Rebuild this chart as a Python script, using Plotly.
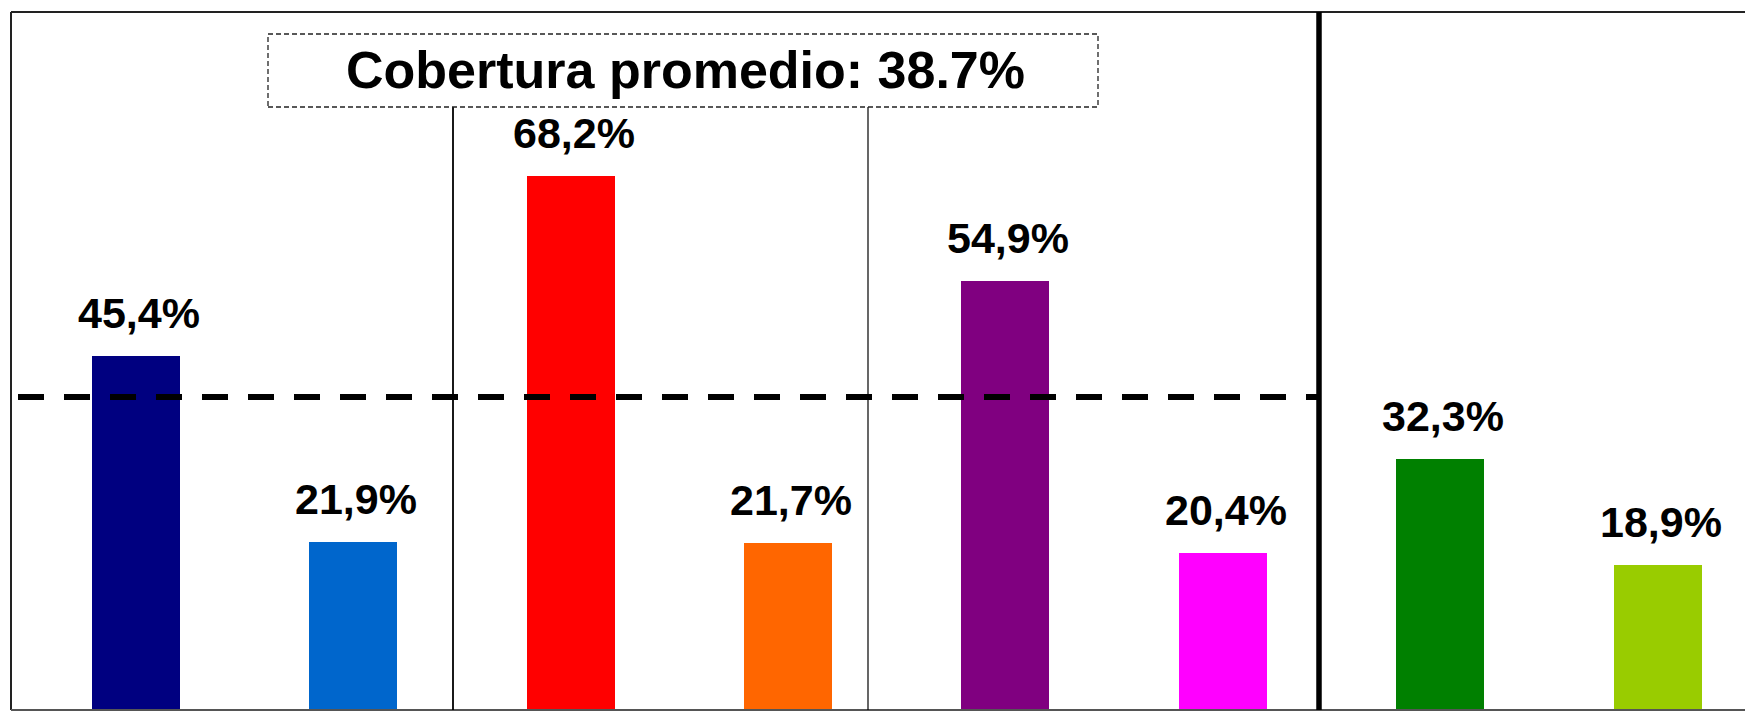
import plotly.graph_objects as go

# ---------------- data ----------------
categories = ["Grupo 1 A", "Grupo 1 B", "Grupo 2 A", "Grupo 2 B",
              "Grupo 3 A", "Grupo 3 B", "Grupo 4 A", "Grupo 4 B"]
values = [45.4, 21.9, 68.2, 21.7, 54.9, 20.4, 32.3, 18.9]
bar_colors = ["#000080", "#0066CC", "#FF0000", "#FF6600",
              "#800080", "#FF00FF", "#008000", "#99CC00"]
reference_value = 40.2          # dashed reference line
summary_text = "Cobertura promedio: 38.7%"

# ---------------- layout geometry ----------------
OFF = 8                      # default page body margin
W, H = 1753 - OFF, 712 - OFF
L, R, T, B = 11 - OFF, 0, 12 - OFF, 2
PW, PH = W - L - R, H - T - B
x_range = [-0.575, 7.439]
y_range = [0.557, 88.97]

def px_x(px):   # screen pixel -> paper x
    return (px - OFF - L) / PW

def px_y(py):   # screen pixel -> paper y
    return (H - B - (py - OFF)) / PH

FONT = "Liberation Sans, Arial, sans-serif"

x_pos = list(range(len(categories)))
labels = [f"{v:.1f}".replace(".", ",") + "%" for v in values]

fig = go.Figure()
fig.add_trace(go.Bar(
    x=x_pos, y=values, width=0.405,
    marker=dict(color=bar_colors, line=dict(width=0)),
    hovertext=categories, hoverinfo="text+y",
    showlegend=False,
))

annotations = []
for xi, v, lab in zip(x_pos, values, labels):
    annotations.append(dict(
        x=xi, y=v, xref="x", yref="y", text=lab, showarrow=False,
        yanchor="bottom", xanchor="center", yshift=17, xshift=3,
        font=dict(family=FONT, size=43, color="black", weight="bold"),
    ))

annotations.append(dict(
    x=px_x(685), y=px_y(101), xref="paper", yref="paper",
    text=summary_text, showarrow=False, xanchor="center", yanchor="bottom",
    font=dict(family=FONT, size=52, color="black", weight="bold"),
))

sep_x = [(453, 107, 1.8), (868, 107, 1.2), (1319, 12, 5.5)]

shapes = []
# frame (top, left, bottom)
shapes.append(dict(type="line", xref="paper", yref="paper", x0=0, x1=1, y0=1, y1=1,
                   line=dict(color="#222222", width=2)))
shapes.append(dict(type="line", xref="paper", yref="paper", x0=0, x1=0, y0=0, y1=1,
                   line=dict(color="#222222", width=2)))
shapes.append(dict(type="line", xref="paper", yref="paper", x0=0, x1=1, y0=0, y1=0,
                   line=dict(color="#555555", width=2)))
# group separators
for sx, top, w in sep_x:
    shapes.append(dict(type="line", xref="paper", yref="paper",
                       x0=px_x(sx), x1=px_x(sx), y0=0, y1=px_y(top),
                       line=dict(color="black", width=w)))
# dashed reference line
shapes.append(dict(type="line", xref="paper", yref="y",
                   x0=px_x(18), x1=px_x(1317), y0=reference_value, y1=reference_value,
                   line=dict(color="black", width=6, dash="26px,20px"), layer="above"))
# dashed summary box
shapes.append(dict(type="rect", xref="paper", yref="paper",
                   x0=px_x(268), x1=px_x(1098), y0=px_y(107), y1=px_y(34),
                   line=dict(color="#222222", width=1.3, dash="5px,3px"),
                   fillcolor="white", layer="above"))

fig.update_layout(
    width=W, height=H,
    margin=dict(l=L, r=R, t=T, b=B, pad=0),
    paper_bgcolor="white", plot_bgcolor="white",
    xaxis=dict(range=x_range, showgrid=False, zeroline=False, showticklabels=False,
               ticks="", showline=False, fixedrange=True),
    yaxis=dict(range=y_range, showgrid=False, zeroline=False, showticklabels=False,
               ticks="", showline=False, fixedrange=True),
    shapes=shapes, annotations=annotations,
    bargap=0,
)

fig.write_html("out.html")
